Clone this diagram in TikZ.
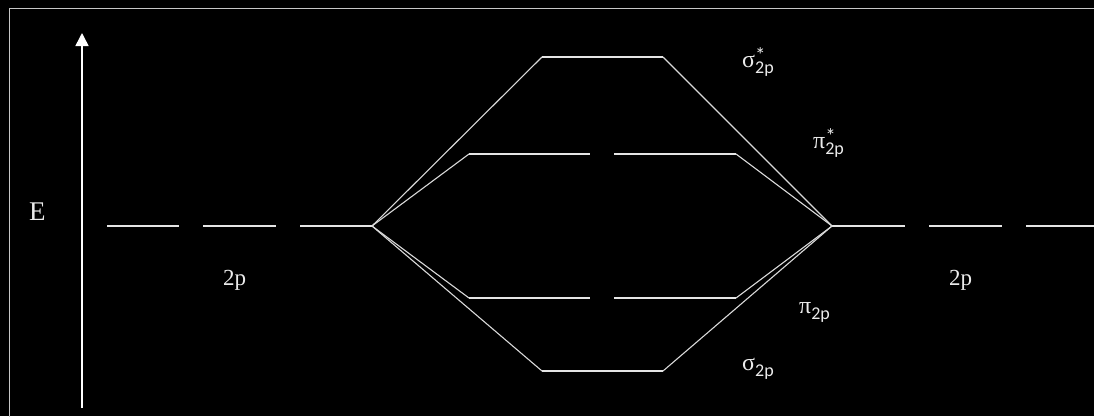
\documentclass[tikz,border=0pt]{standalone}
\usepackage{fontspec}
\setmainfont{Liberation Serif}
\newfontfamily\subfont{Carlito}
\usetikzlibrary{arrows.meta}
\newcommand{\orb}[2]{#1\raisebox{-6pt}{\subfont\fontsize{18}{18}\selectfont\rlap{\raisebox{11pt}{\fontsize{21}{21}\selectfont #2}}2p}}

\begin{document}
\begin{tikzpicture}[x=1pt,y=-1pt,
    level/.style={draw=white!90!black,line width=1.6pt},
    link/.style={draw=white!85!black,line width=1.1pt},
    lbl/.style={text=white!92!black,inner sep=0pt,anchor=base west,font=\fontsize{23}{23}\selectfont},
    mo/.style={text=white!92!black,inner sep=0pt,anchor=base west,font=\fontsize{24}{24}\selectfont}]
    \useasboundingbox (0,0) rectangle (1094,416);
    \fill[black] (0,0) rectangle (1094,416);
    \draw[white!78!black,line width=1.8pt] (9.5,8.5) rectangle (1110,430);
    % energy axis
    \coordinate (Ebot) at (82,408);
    \coordinate (Etop) at (82,33);
    \draw[white,line width=1.5pt,-{Triangle[width=13pt,length=13pt]}] (Ebot) -- (Etop);
    \node[lbl,font=\fontsize{27}{27}\selectfont] (E) at (29,220) {E};
    % atomic levels
    \coordinate (L) at (372,226);
    \coordinate (R) at (832,226);
    \draw[level] (107,226) -- (179,226);
    \draw[level] (203,226) -- (276,226);
    \draw[level] (300,226) -- (L);
    \draw[level] (R) -- (905,226);
    \draw[level] (929,226) -- (1002,226);
    \draw[level] (1026,226) -- (1100,226);
    \node[lbl] (pL) at (223,285) {2p};
    \node[lbl] (pR) at (949,285) {2p};
    % molecular levels
    \coordinate (sa1) at (542,57);  \coordinate (sa2) at (663,57);
    \coordinate (pa1) at (469,154); \coordinate (pa2) at (590,154);
    \coordinate (pa3) at (614,154); \coordinate (pa4) at (736,154);
    \coordinate (pb1) at (469,298); \coordinate (pb2) at (590,298);
    \coordinate (pb3) at (614,298); \coordinate (pb4) at (736,298);
    \coordinate (sb1) at (542,371); \coordinate (sb2) at (663,371);
    \draw[level] (sa1) -- (sa2);
    \draw[level] (pa1) -- (pa2);
    \draw[level] (pa3) -- (pa4);
    \draw[level] (pb1) -- (pb2);
    \draw[level] (pb3) -- (pb4);
    \draw[level] (sb1) -- (sb2);
    % correlation lines
    \draw[link] (L) -- (sa1);
    \draw[link] (sa2) -- (R);
    \draw[link] (L) -- (pa1);
    \draw[link] (pa4) -- (R);
    \draw[link] (L) -- (pb1);
    \draw[link] (pb4) -- (R);
    \draw[link] (L) -- (sb1);
    \draw[link] (sb2) -- (R);
    \node[mo] (ssa) at (742,67) {\orb{σ}{*}};
    \node[mo] (ppa) at (813,148) {\orb{π}{*}};
    \node[mo] (ppb) at (799,313) {\orb{π}{}};
    \node[mo] (ssb) at (742,370) {\orb{σ}{}};
\end{tikzpicture}
\end{document}
